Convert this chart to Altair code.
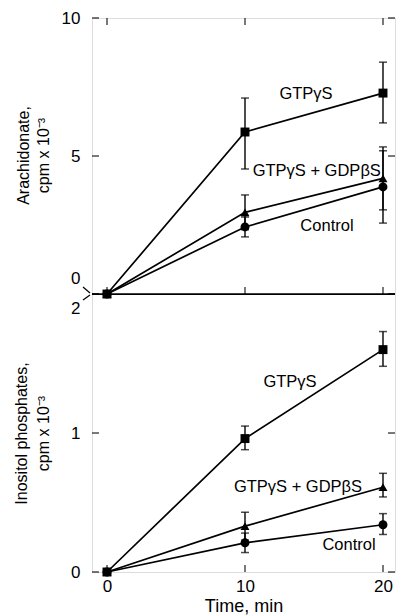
import altair as alt
import pandas as pd

FONT = "Liberation Sans"

# ---------------- data ----------------
times = [0, 10, 20]
series = ["GTPγS", "GTPγS + GDPβS", "Control"]

# Arachidonate, cpm x 10^-3
ara_gtp = [0, 5.87, 7.28]
ara_gtp_lo = [None, 4.53, 6.20]
ara_gtp_hi = [None, 7.10, 8.40]
ara_gdp = [0, 2.96, 4.19]
ara_gdp_lo = [None, 2.33, 3.05]
ara_gdp_hi = [None, 3.59, 5.33]
ara_ctl = [0, 2.43, 3.88]
ara_ctl_lo = [None, 2.07, 2.57]
ara_ctl_hi = [None, 2.79, 5.19]

# Inositol phosphates, cpm x 10^-3
ino_gtp = [0, 0.96, 1.60]
ino_gtp_lo = [None, 0.88, 1.48]
ino_gtp_hi = [None, 1.05, 1.73]
ino_gdp = [0, 0.33, 0.61]
ino_gdp_lo = [None, 0.23, 0.54]
ino_gdp_hi = [None, 0.43, 0.71]
ino_ctl = [0, 0.21, 0.34]
ino_ctl_lo = [None, 0.14, 0.27]
ino_ctl_hi = [None, 0.28, 0.42]

# annotation labels (data coordinates)
ara_label_x = [14.42, 15.20, 15.94]
ara_label_y = [7.25, 4.46, 2.46]
ino_label_x = [13.26, 13.84, 17.54]
ino_label_y = [1.367, 0.61, 0.194]

# axis ticks
x_ticks = [0, 10, 20]
ara_ticks = [0, 5, 10]
ino_ticks = [0, 1, 2]

X_DOMAIN = [-1.087, 20.87]
ARA_DOMAIN = [-10.07, 10]
INO_DOMAIN = [0, 3.986]


def build_df(vals, los, his):
    rows = []
    for s, v, lo, hi in zip(series, vals, los, his):
        for t, a, b, c in zip(times, v, lo, hi):
            rows.append({"time": t, "value": a, "lo": b, "hi": c, "series": s})
    return pd.DataFrame(rows)


ara_df = build_df([ara_gtp, ara_gdp, ara_ctl],
                  [ara_gtp_lo, ara_gdp_lo, ara_ctl_lo],
                  [ara_gtp_hi, ara_gdp_hi, ara_ctl_hi])
ino_df = build_df([ino_gtp, ino_gdp, ino_ctl],
                  [ino_gtp_lo, ino_gdp_lo, ino_ctl_lo],
                  [ino_gtp_hi, ino_gdp_hi, ino_ctl_hi])

xscale = alt.Scale(domain=X_DOMAIN, nice=False, zero=False)
x_axis = alt.Axis(values=x_ticks, ticks=False, domain=False, grid=False,
                  labelPadding=6, labelFontSize=17, labelColor="black", labelFont=FONT,
                  labelFlush=False, labelOverlap=False,
                  title="Time, min", titleFontSize=18, titleFontWeight="normal",
                  titleColor="black", titleFont=FONT, titlePadding=3)


def X(field="time"):
    return alt.X(f"{field}:Q", scale=xscale, axis=x_axis)


shape = alt.Shape("series:N",
                  scale=alt.Scale(domain=series, range=["square", "triangle-up", "circle"]),
                  legend=None)


def panel(df, lab_x, lab_y, ydomain, ticks, yaxis):
    ysc = alt.Scale(domain=ydomain, nice=False, zero=False)

    def Y(field):
        return alt.Y(f"{field}:Q", scale=ysc, axis=yaxis)

    base = alt.Chart(df)
    lines = base.mark_line(color="black", strokeWidth=1.7).encode(
        x=X(), y=Y("value"), detail="series:N")
    err = base.transform_filter("isValid(datum.lo)")
    err_rule = err.mark_rule(color="black", strokeWidth=1.4).encode(
        x=X(), y=Y("lo"), y2="hi:Q")
    cap_lo = err.mark_tick(color="black", orient="horizontal", size=8, thickness=1.5).encode(
        x=X(), y=Y("lo"))
    cap_hi = err.mark_tick(color="black", orient="horizontal", size=8, thickness=1.5).encode(
        x=X(), y=Y("hi"))
    pts = base.mark_point(filled=True, color="black", size=80, opacity=1).encode(
        x=X(), y=Y("value"), shape=shape)

    lab_df = pd.DataFrame({"time": lab_x, "value": lab_y, "label": series})
    labels = alt.Chart(lab_df).mark_text(font=FONT, fontSize=16.5, color="black",
                                         align="center", baseline="middle").encode(
        x=X(), y=Y("value"), text="label:N")

    layers = [lines, err_rule, cap_lo, cap_hi, pts, labels]

    bottom_edge = pd.DataFrame({"time": x_ticks, "value": [ticks[0]] * len(x_ticks)})
    layers.append(alt.Chart(bottom_edge).mark_tick(
        color="black", orient="vertical", size=7, thickness=1.5, yOffset=-3.5).encode(
        x=X(), y=Y("value")))
    if ticks[-1] >= ydomain[1] - 1e-9:
        top_edge = pd.DataFrame({"time": x_ticks, "value": [ticks[-1]] * len(x_ticks)})
        layers.append(alt.Chart(top_edge).mark_tick(
            color="black", orient="vertical", size=7, thickness=1.5, yOffset=3.5).encode(
            x=X(), y=Y("value")))
        mid = pd.DataFrame({"time": [X_DOMAIN[0]], "time2": [X_DOMAIN[1]], "value": [ticks[0]]})
        layers.append(alt.Chart(mid).mark_rule(color="black", strokeWidth=1.7).encode(
            x=X(), x2="time2:Q", y=Y("value")))
        brk = pd.DataFrame({"time": [X_DOMAIN[0]], "value": [ticks[0]]})
        layers.append(alt.Chart(brk).mark_rule(
            color="black", strokeWidth=1.2, xOffset=-9, yOffset=-7, x2Offset=-2, y2Offset=-1).encode(
            x=X(), x2="time:Q", y=Y("value"), y2="value:Q"))
        layers.append(alt.Chart(brk).mark_rule(
            color="black", strokeWidth=1.2, xOffset=-9, yOffset=6, x2Offset=-2, y2Offset=1).encode(
            x=X(), x2="time:Q", y=Y("value"), y2="value:Q"))

    left_edge = pd.DataFrame({"time": [X_DOMAIN[0]] * len(ticks), "value": ticks})
    right_edge = pd.DataFrame({"time": [X_DOMAIN[1]] * len(ticks), "value": ticks})
    layers.append(alt.Chart(left_edge).mark_tick(
        color="black", orient="horizontal", size=7, thickness=1.5, xOffset=3.5).encode(
        x=X(), y=Y("value")))
    layers.append(alt.Chart(right_edge).mark_tick(
        color="black", orient="horizontal", size=7, thickness=1.5, xOffset=-3.5).encode(
        x=X(), y=Y("value")))
    return alt.layer(*layers)


ara_axis = alt.Axis(orient="left", values=ara_ticks, ticks=False, domain=False, grid=False,
                    labelPadding=12, labelFontSize=17, labelColor="black", labelFont=FONT,
                    labelFlush=False, labelOverlap=False,
                    labelOffset={"condition": {"test": "datum.value === 0", "value": -16}, "value": 0},
                    title=["Arachidonate,", "cpm x 10⁻³"], titleAngle=270,
                    titleX=-77, titleY=137, titleAlign="center", titleBaseline="top",
                    titleFontSize=16, titleFontWeight="normal", titleLineHeight=20,
                    titleColor="black", titleFont=FONT)

ino_axis = alt.Axis(orient="left", values=ino_ticks, ticks=False, domain=False, grid=False,
                    labelPadding=12, labelFontSize=17, labelColor="black", labelFont=FONT,
                    labelFlush=False, labelOverlap=False,
                    labelOffset={"condition": {"test": "datum.value === 2", "value": 14}, "value": 0},
                    title=["Inositol phosphates,", "cpm x 10⁻³"], titleAngle=270,
                    titleX=-79, titleY=415, titleAlign="center", titleBaseline="top",
                    titleFontSize=16, titleFontWeight="normal", titleLineHeight=22,
                    titleColor="black", titleFont=FONT)

top = panel(ara_df, ara_label_x, ara_label_y, ARA_DOMAIN, ara_ticks, ara_axis)
bottom = panel(ino_df, ino_label_x, ino_label_y, INO_DOMAIN, ino_ticks, ino_axis)

chart = alt.layer(top, bottom).resolve_scale(y="independent").properties(
    width=303, height=554,
    padding={"left": 92, "top": 18, "right": 1, "bottom": 43},
    autosize=alt.AutoSizeParams(type="none"),
    background="white",
).configure_view(stroke="black", strokeWidth=1.7).configure(font=FONT)

chart.save("out.html", embed_options={"renderer": "svg", "actions": False})
